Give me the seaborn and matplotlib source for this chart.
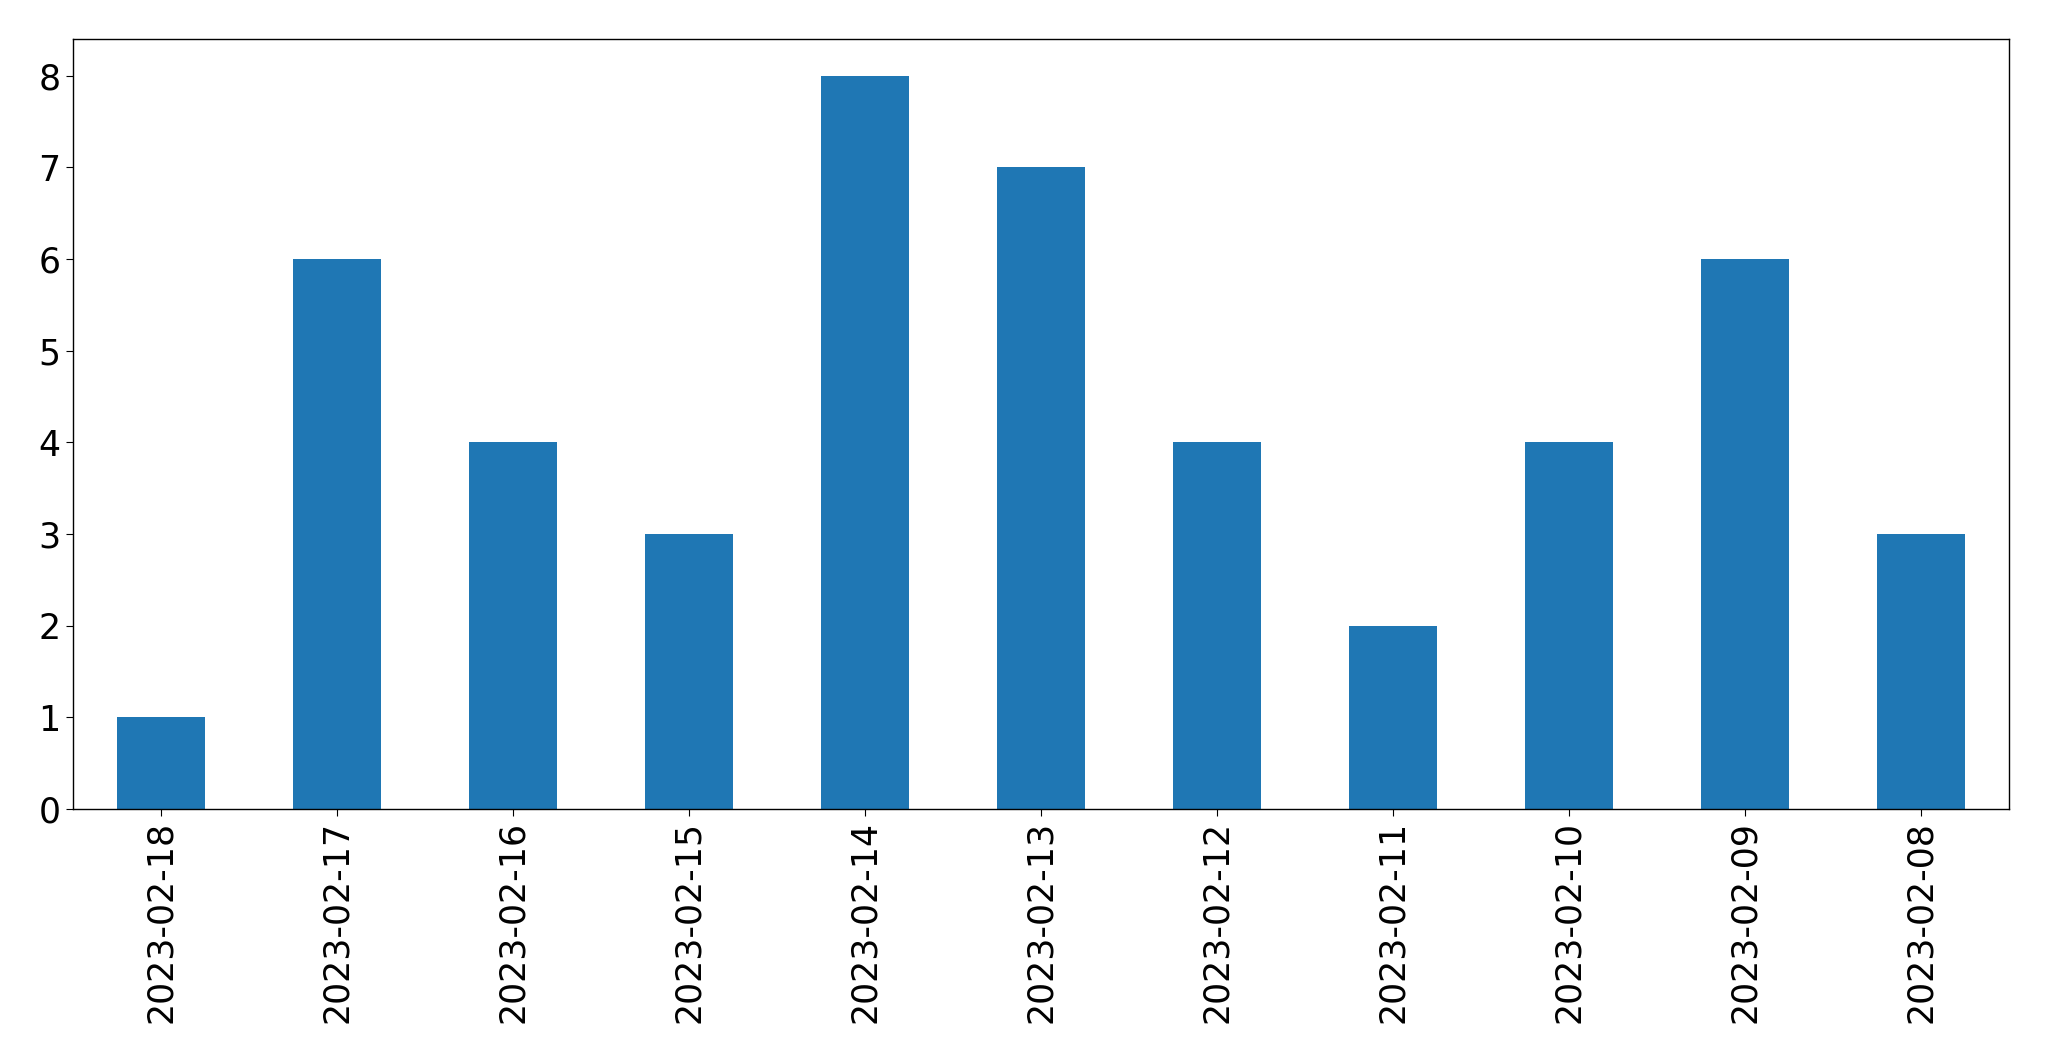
import matplotlib
matplotlib.use("Agg")
import matplotlib.pyplot as plt
import seaborn as sns
import pandas as pd

dates = ["2023-02-18", "2023-02-17", "2023-02-16", "2023-02-15", "2023-02-14",
         "2023-02-13", "2023-02-12", "2023-02-11", "2023-02-10", "2023-02-09",
         "2023-02-08"]
counts = [1, 6, 4, 3, 8, 7, 4, 2, 4, 6, 3]

df = pd.DataFrame({"date": dates, "count": counts})

fig = plt.figure(figsize=(20.49, 10.61), dpi=100)
ax = fig.add_axes([72.5 / 2049, 1 - 809 / 1061, (2009 - 72.5) / 2049, (809 - 39) / 1061])
sns.barplot(data=df, x="date", y="count", order=dates, color="#1f77b4",
            saturation=1, width=0.5, ax=ax, errorbar=None)
ax.set_xlim(-0.5, len(dates) - 0.5)
ax.set_ylim(0, 8.4)
ax.set_xlabel("")
ax.set_ylabel("")
ax.tick_params(axis="both", labelsize=25, length=5)
ax.tick_params(axis="x", labelrotation=90)
for s in ax.spines.values():
    s.set_linewidth(1.0)
fig.savefig("out.png", dpi=100)
